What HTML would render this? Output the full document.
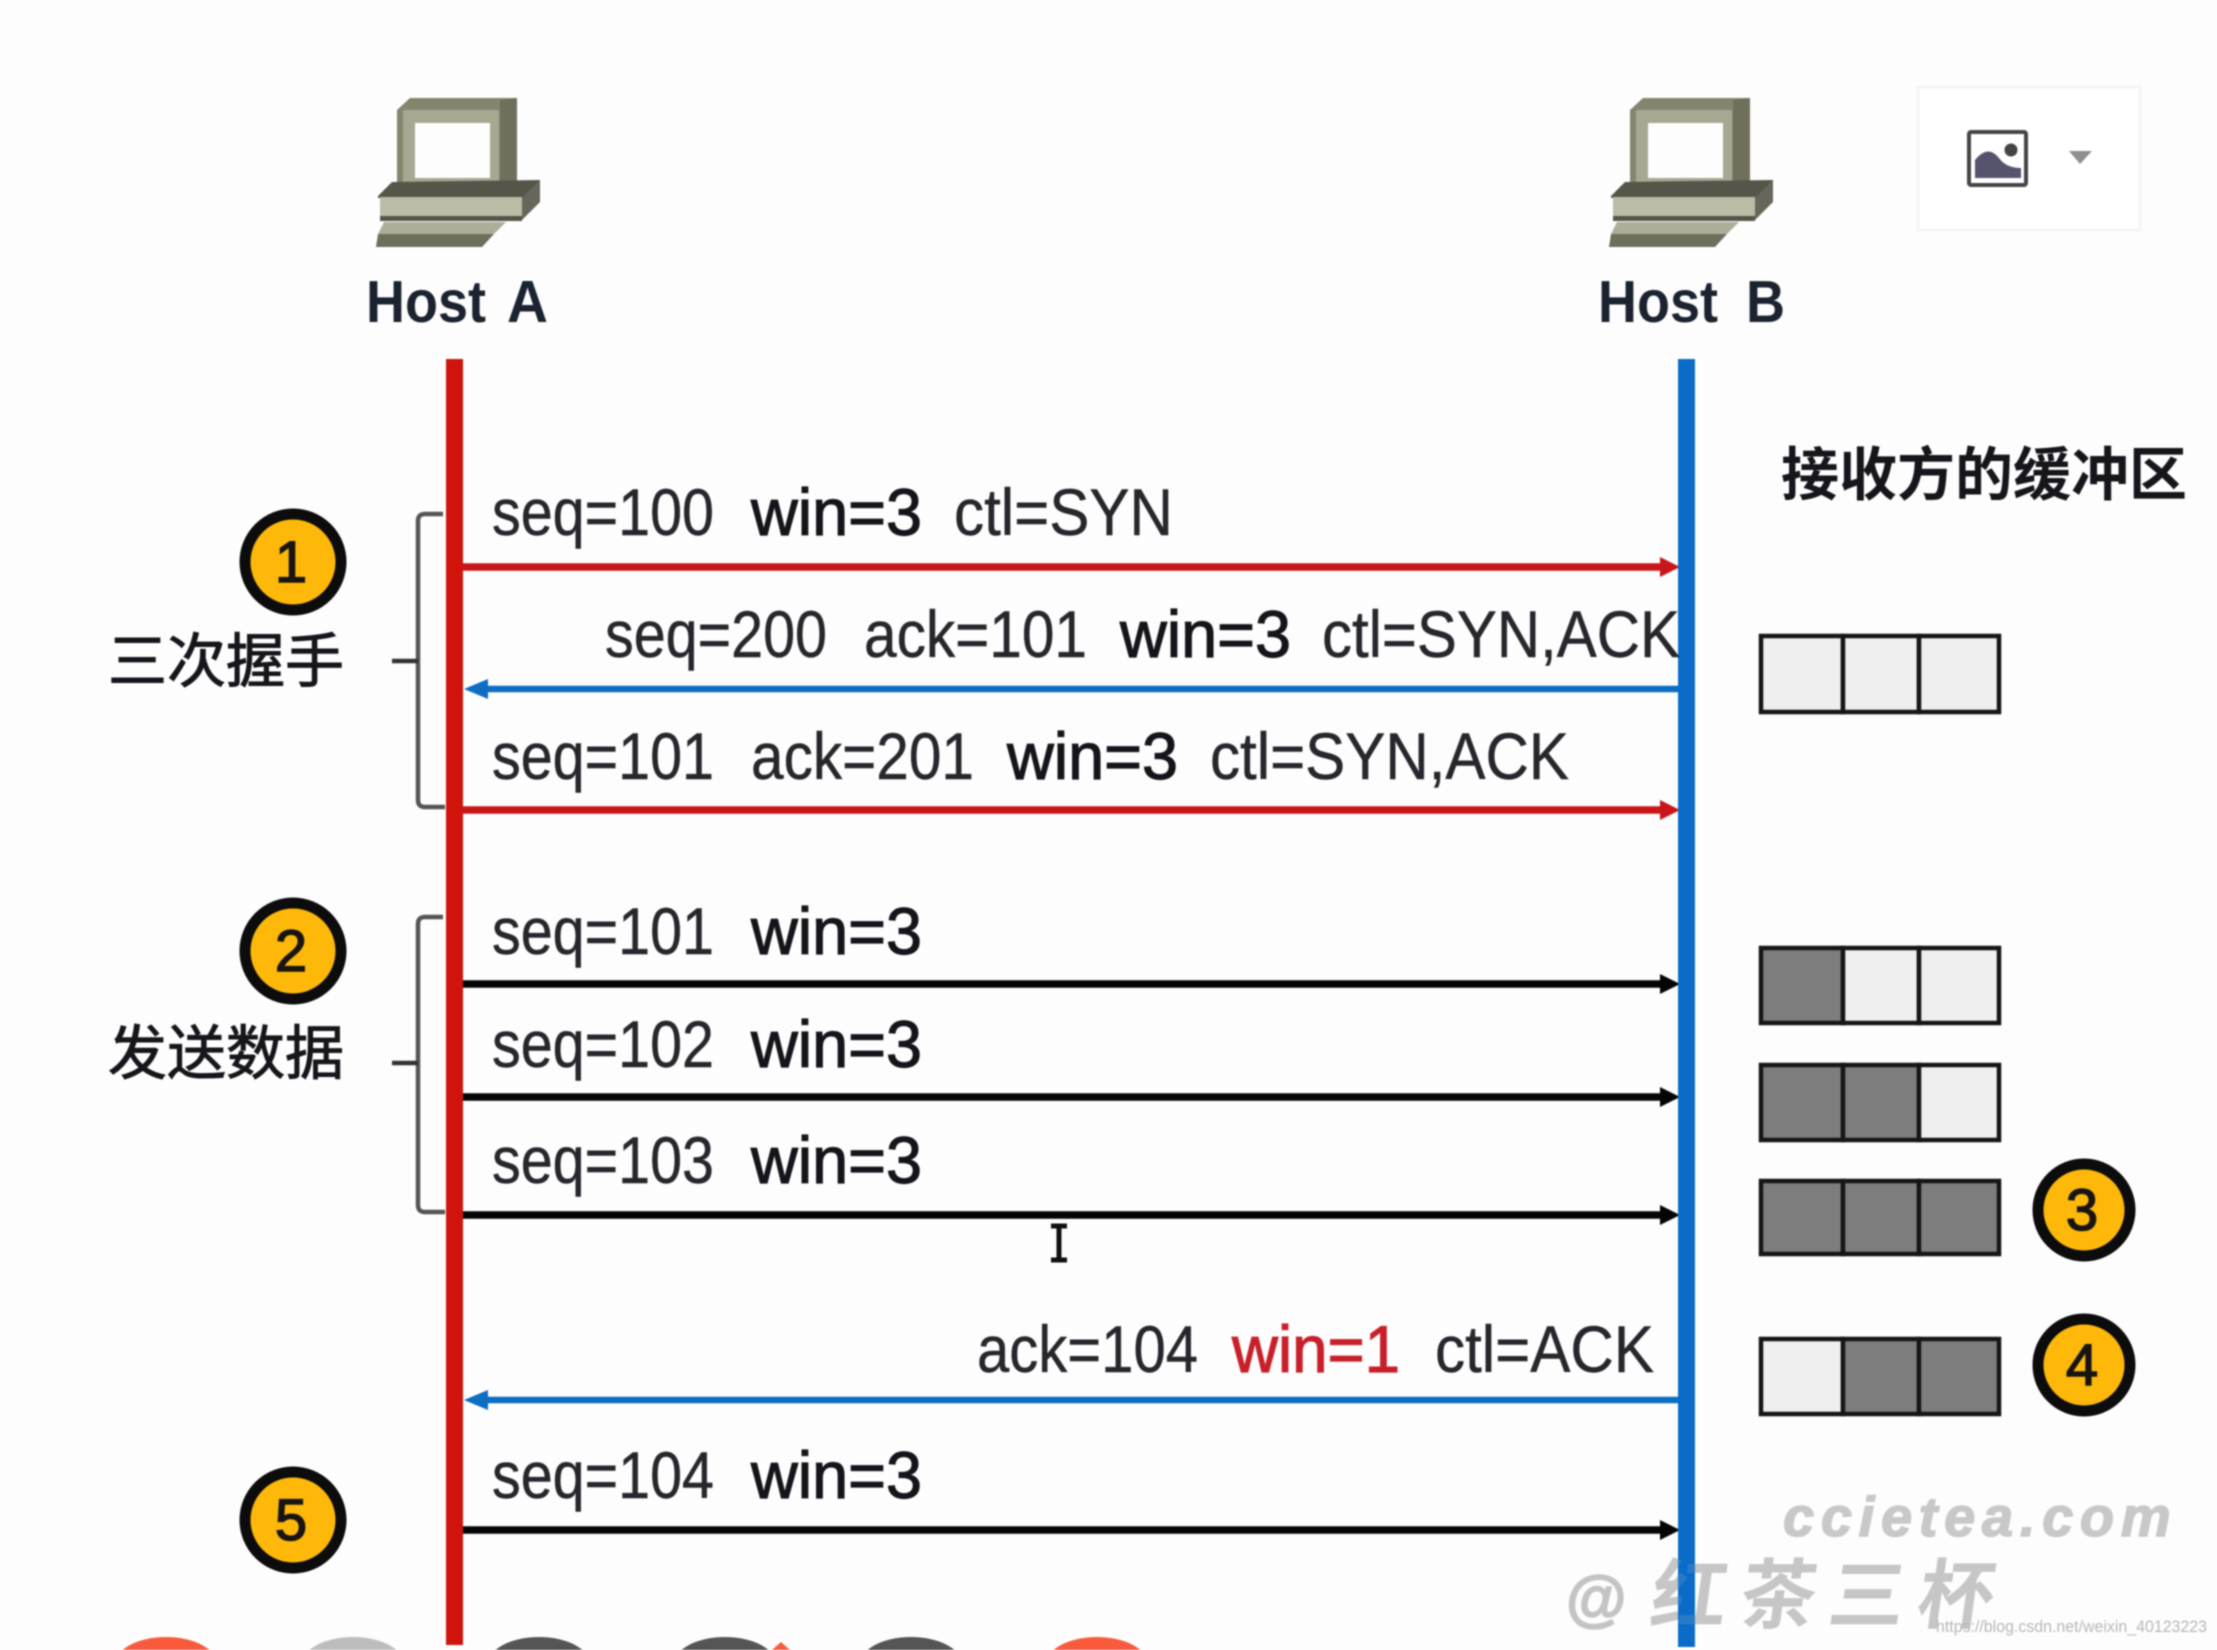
<!DOCTYPE html>
<html><head><meta charset="utf-8"><style>
html,body{margin:0;padding:0;background:#fdfdfd;width:2217px;height:1650px;overflow:hidden}
svg{display:block;filter:blur(.8px)}
.t{font-family:"Liberation Sans",sans-serif;font-size:57px;fill:#26262c;stroke:#26262c;stroke-width:.4px}
.b{font-family:"Liberation Sans",sans-serif;font-size:57px;fill:#14141a;stroke:#14141a;stroke-width:1px}
.cjk{font-family:"Liberation Sans","Noto Sans CJK SC",sans-serif;font-size:59px;fill:#15151b}
.n{font-family:"Liberation Sans",sans-serif;font-size:58px;fill:#181410;text-anchor:middle;stroke:#181410;stroke-width:1.5px}
.h{font-family:"Liberation Sans",sans-serif;font-size:55px;font-weight:700;fill:#1b2230}
</style></head><body>
<svg width="2217" height="1650" viewBox="0 0 2217 1650" xmlns="http://www.w3.org/2000/svg">
<defs>
<g id="pc">
  <polygon points="410,98 517,98 517,192 397,192 397,110" fill="#85856e"/>
  <polygon points="500,100 517,98 517,192 500,192" fill="#6f6f5c"/>
  <rect x="403" y="110" width="96" height="76" fill="#a8a892"/>
  <rect x="415" y="123" width="75" height="55" fill="#fdfdfd"/>
  <polygon points="378,196 392,182 540,180 540,200 522,198 378,198" fill="#55554a"/>
  <rect x="380" y="197" width="142" height="21" fill="#bcbca6"/>
  <polygon points="522,198 540,180 540,202 522,220" fill="#66665a"/>
  <rect x="380" y="216" width="142" height="5" fill="#55554a"/>
  <polygon points="384,222 506,222 494,234 378,234" fill="#aeae98"/>
  <polygon points="378,234 494,234 482,247 376,247" fill="#6e6e5c"/>
</g>
</defs>

<!-- image placeholder panel -->
<rect x="1918" y="87" width="222" height="143" fill="#fff" stroke="#f5f5f5" stroke-width="3"/>
<rect x="1969" y="132" width="57" height="53" fill="#fff" stroke="#444" stroke-width="4" rx="2"/>
<path d="M1975 178 V160 Q1988 144 1999 158 Q2006 168 2021 168 V178 Z" fill="#55536e"/>
<circle cx="2011" cy="150" r="6.5" fill="#444"/>
<polygon points="2069,151 2092,151 2080,164" fill="#8f8f8f"/>

<!-- hosts -->
<use href="#pc"/>
<use href="#pc" transform="translate(1233,0)"/>
<text class="h" transform="translate(366,322) scale(1,1.08)" textLength="120" lengthAdjust="spacingAndGlyphs">Host</text>
<text class="h" transform="translate(507,322) scale(1,1.08)" textLength="41" lengthAdjust="spacingAndGlyphs">A</text>
<text class="h" transform="translate(1598,322) scale(1,1.08)" textLength="120" lengthAdjust="spacingAndGlyphs">Host</text>
<text class="h" transform="translate(1746,322) scale(1,1.08)" textLength="39" lengthAdjust="spacingAndGlyphs">B</text>

<!-- brackets -->
<g fill="none" stroke="#555" stroke-width="4.5">
  <path d="M443 514 H425 Q418 514 418 521 V800 Q418 807 425 807 H445"/>
  <path d="M392 661 H418" stroke="#333"/>
  <path d="M443 917 H425 Q418 917 418 924 V1205 Q418 1212 425 1212 H445"/>
  <path d="M392 1063 H418" stroke="#333"/>
</g>

<!-- arrow lines -->
<g stroke-width="7.5">
  <line x1="463" y1="567" x2="1662" y2="567" stroke="#c9161a"/>
  <line x1="484" y1="689" x2="1678" y2="689" stroke="#0d6dc2" stroke-width="6.5"/>
  <line x1="463" y1="810" x2="1662" y2="810" stroke="#c9161a"/>
  <line x1="463" y1="984" x2="1662" y2="984" stroke="#050505"/>
  <line x1="463" y1="1097" x2="1662" y2="1097" stroke="#050505"/>
  <line x1="463" y1="1215" x2="1662" y2="1215" stroke="#050505"/>
  <line x1="484" y1="1400" x2="1678" y2="1400" stroke="#0d6dc2" stroke-width="6.5"/>
  <line x1="463" y1="1530" x2="1662" y2="1530" stroke="#050505"/>
</g>
<polygon points="1680,567 1660,557 1660,577" fill="#c9161a"/>
<polygon points="1680,810 1660,800 1660,820" fill="#c9161a"/>
<polygon points="464,689 488,679 488,699" fill="#0d6dc2"/>
<polygon points="464,1400 488,1390 488,1410" fill="#0d6dc2"/>
<polygon points="1680,984 1660,974 1660,994" fill="#050505"/>
<polygon points="1680,1097 1660,1087 1660,1107" fill="#050505"/>
<polygon points="1680,1215 1660,1205 1660,1225" fill="#050505"/>
<polygon points="1680,1530 1660,1520 1660,1540" fill="#050505"/>

<!-- lifelines -->
<rect x="446" y="359" width="17" height="1286" fill="#d0140c"/>
<rect x="1678" y="359" width="17" height="1288" fill="#0a6cc8"/>

<!-- message labels -->
<g>
<text class="t" transform="translate(492,535) scale(1,1.15)" textLength="222" lengthAdjust="spacingAndGlyphs">seq=100</text>
<text class="b" transform="translate(751,535) scale(1,1.15)" textLength="171" lengthAdjust="spacingAndGlyphs">win=3</text>
<text class="t" transform="translate(954,535) scale(1,1.15)" textLength="219" lengthAdjust="spacingAndGlyphs">ctl=SYN</text>

<text class="t" transform="translate(605,657) scale(1,1.15)" textLength="222" lengthAdjust="spacingAndGlyphs">seq=200</text>
<text class="t" transform="translate(864,657) scale(1,1.15)" textLength="223" lengthAdjust="spacingAndGlyphs">ack=101</text>
<text class="b" transform="translate(1120,657) scale(1,1.15)" textLength="171" lengthAdjust="spacingAndGlyphs">win=3</text>
<text class="t" transform="translate(1322,657) scale(1,1.15)" textLength="358" lengthAdjust="spacingAndGlyphs">ctl=SYN,ACK</text>

<text class="t" transform="translate(492,779) scale(1,1.15)" textLength="222" lengthAdjust="spacingAndGlyphs">seq=101</text>
<text class="t" transform="translate(751,779) scale(1,1.15)" textLength="223" lengthAdjust="spacingAndGlyphs">ack=201</text>
<text class="b" transform="translate(1007,779) scale(1,1.15)" textLength="171" lengthAdjust="spacingAndGlyphs">win=3</text>
<text class="t" transform="translate(1210,779) scale(1,1.15)" textLength="359" lengthAdjust="spacingAndGlyphs">ctl=SYN,ACK</text>

<text class="t" transform="translate(492,954) scale(1,1.15)" textLength="222" lengthAdjust="spacingAndGlyphs">seq=101</text>
<text class="b" transform="translate(751,954) scale(1,1.15)" textLength="171" lengthAdjust="spacingAndGlyphs">win=3</text>

<text class="t" transform="translate(492,1067) scale(1,1.15)" textLength="222" lengthAdjust="spacingAndGlyphs">seq=102</text>
<text class="b" transform="translate(751,1067) scale(1,1.15)" textLength="171" lengthAdjust="spacingAndGlyphs">win=3</text>

<text class="t" transform="translate(492,1183) scale(1,1.15)" textLength="222" lengthAdjust="spacingAndGlyphs">seq=103</text>
<text class="b" transform="translate(751,1183) scale(1,1.15)" textLength="171" lengthAdjust="spacingAndGlyphs">win=3</text>

<text class="t" transform="translate(977,1372) scale(1,1.15)" textLength="221" lengthAdjust="spacingAndGlyphs">ack=104</text>
<text class="b" transform="translate(1232,1372) scale(1,1.15)" textLength="168" lengthAdjust="spacingAndGlyphs" style="fill:#c8202a;stroke:#c8202a">win=1</text>
<text class="t" transform="translate(1435,1372) scale(1,1.15)" textLength="219" lengthAdjust="spacingAndGlyphs">ctl=ACK</text>

<text class="t" transform="translate(492,1498) scale(1,1.15)" textLength="222" lengthAdjust="spacingAndGlyphs">seq=104</text>
<text class="b" transform="translate(751,1498) scale(1,1.15)" textLength="171" lengthAdjust="spacingAndGlyphs">win=3</text>
</g>

<!-- CJK labels -->
<text class="cjk" x="108" y="682" style="stroke:#15151b;stroke-width:1px">三次握手</text>
<text class="cjk" x="108" y="1074" style="stroke:#15151b;stroke-width:1px">发送数据</text>
<text class="cjk" x="1781" y="495" style="font-size:58px;font-weight:700">接收方的缓冲区</text>

<!-- buffers -->
<g stroke="#161616" stroke-width="4.5">
  <rect x="1761" y="636" width="82" height="76" fill="#efefef"/><rect x="1843" y="636" width="76" height="76" fill="#efefef"/><rect x="1919" y="636" width="80" height="76" fill="#efefef"/>
  <rect x="1761" y="948" width="82" height="75" fill="#7d7d7d"/><rect x="1843" y="948" width="76" height="75" fill="#efefef"/><rect x="1919" y="948" width="80" height="75" fill="#efefef"/>
  <rect x="1761" y="1065" width="82" height="75" fill="#7d7d7d"/><rect x="1843" y="1065" width="76" height="75" fill="#7d7d7d"/><rect x="1919" y="1065" width="80" height="75" fill="#efefef"/>
  <rect x="1761" y="1181" width="82" height="73" fill="#7d7d7d"/><rect x="1843" y="1181" width="76" height="73" fill="#7d7d7d"/><rect x="1919" y="1181" width="80" height="73" fill="#7d7d7d"/>
  <rect x="1761" y="1339" width="82" height="75" fill="#efefef"/><rect x="1843" y="1339" width="76" height="75" fill="#7d7d7d"/><rect x="1919" y="1339" width="80" height="75" fill="#7d7d7d"/>
</g>

<!-- numbered circles -->
<g fill="#fdb80a" stroke="#0c0c0c" stroke-width="11">
  <circle cx="293" cy="562" r="48"/>
  <circle cx="293" cy="951" r="48"/>
  <circle cx="293" cy="1520" r="48"/>
  <circle cx="2084" cy="1210" r="46"/>
  <circle cx="2084" cy="1365" r="46"/>
</g>
<text class="n" x="291" y="582">1</text>
<text class="n" x="291" y="971">2</text>
<text class="n" x="2082" y="1230">3</text>
<text class="n" x="2082" y="1385">4</text>
<text class="n" x="291" y="1540">5</text>

<!-- watermark -->
<text x="1783" y="1536" style="font-family:'Liberation Sans',sans-serif;font-size:56px;font-weight:700;font-style:italic;fill:#c8c8c8;stroke:#c8c8c8;stroke-width:1.5px;letter-spacing:6.7px">ccietea.com</text>
<text x="1565" y="1620" style="font-family:'Liberation Sans',sans-serif;font-size:62px;font-weight:700;font-style:italic;fill:#c4c4c4;stroke:#c4c4c4;stroke-width:1.5px">@</text>
<text transform="translate(1648,1622) skewX(-8)" style="font-family:'Liberation Sans','Noto Sans CJK SC',sans-serif;font-size:76px;font-weight:700;fill:#c6c6c6;letter-spacing:13px">红茶三杯</text>
<rect x="1678" y="1553" width="17" height="85" fill="#0a6cc8" opacity=".85"/>
<text x="1936" y="1632" textLength="271" lengthAdjust="spacingAndGlyphs" style="font-family:'Liberation Sans',sans-serif;font-size:17px;fill:#b8b8b8">https://blog.csdn.net/weixin_40123223</text>

<!-- I-beam cursor -->
<path d="M1051 1226 H1067 M1059 1226 V1260 M1051 1260 H1067" stroke="#111" stroke-width="5" fill="none"/>

<!-- bottom toolbar circles -->
<ellipse cx="166" cy="1663" rx="50" ry="26" fill="#f95a3c"/>
<ellipse cx="353" cy="1663" rx="50" ry="26" fill="#bdbdbd"/>
<ellipse cx="539" cy="1663" rx="50" ry="26" fill="#555"/>
<ellipse cx="725" cy="1663" rx="50" ry="26" fill="#555"/>
<ellipse cx="911" cy="1663" rx="50" ry="26" fill="#555"/>
<ellipse cx="1097" cy="1663" rx="50" ry="26" fill="#f95a3c"/>
<polygon points="781,1642 772,1650 790,1650" fill="#f95a3c"/>
</svg>
</body></html>
